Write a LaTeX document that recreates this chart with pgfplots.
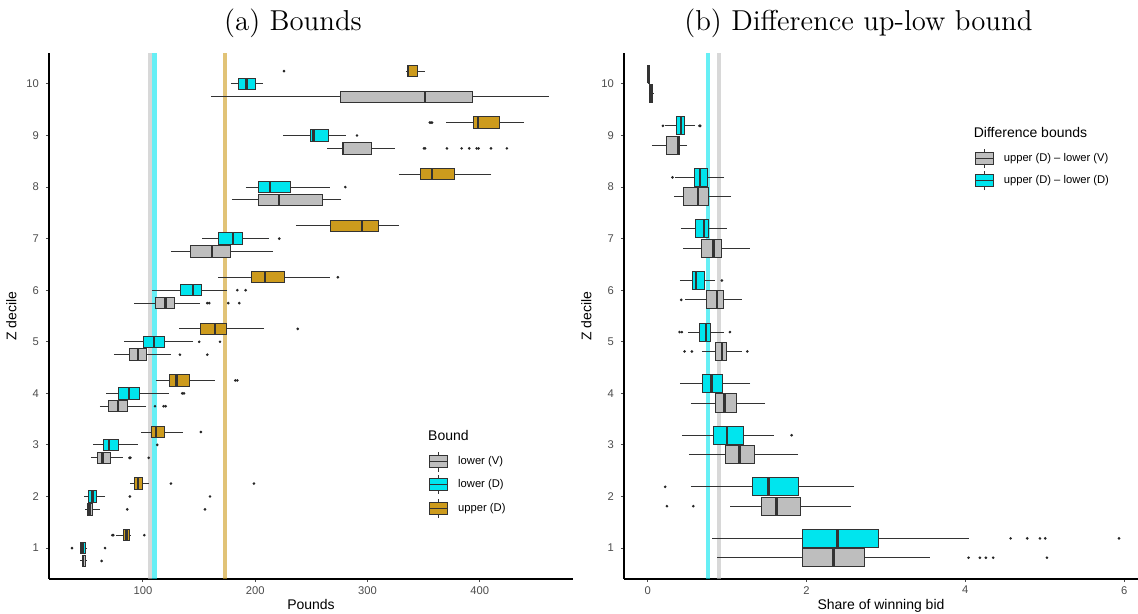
\documentclass[border=0pt]{standalone}
\usepackage{fontspec}
\usepackage{pgfplots}
\pgfplotsset{compat=1.18}
\usepgfplotslibrary{statistics}
\newfontfamily\lib{Liberation Sans}
\definecolor{cgray}{HTML}{BEBEBE}
\definecolor{ccyan}{HTML}{00E5EE}
\definecolor{cgold}{HTML}{CD9B1D}
\definecolor{cbord}{HTML}{333333}

\pgfplotsset{
  ggbox/.style={
    scale only axis, height=263pt,
    ymin=0.4, ymax=10.6, ytick={1,...,10},
    axis lines=left, axis line style={-, line width=0.55pt, black},
    tick align=outside, major tick length=1.6pt,
    tick style={black!70, line width=0.5pt},
    ticklabel style={font=\lib\fontsize{5.6}{6.5}\selectfont, text=black!70},
    xticklabel style={yshift=1.5pt},
    /pgf/number format/assume math mode=true,
    label style={font=\lib\fontsize{7}{8}\selectfont},
    xlabel style={yshift=4.5pt},
    ylabel style={yshift=-2pt},
    boxplot/whisker extend=0,
    boxplot/every median/.style={line width=1.2pt},
  },
  bxs/.style={draw=cbord, line width=0.5pt, mark=*, mark size=0.38pt,
    mark options={fill=black!85, draw=black!85, solid}},
}

% draw position, lower whisker, Q1, median, Q3, upper whisker, fill, outliers
\newcommand{\bx}[8]{\addplot[bxs, fill=#7, boxplot prepared={draw position=#1,
  lower whisker=#2, lower quartile=#3, median=#4, upper quartile=#5,
  upper whisker=#6}] coordinates {#8};}

\newcommand{\legkey}[3]{%
  \draw[cbord, line width=0.5pt] (#1+4.5pt,#2-4.8pt) -- (#1+4.5pt,#2+4.8pt);
  \draw[cbord, line width=0.5pt, fill=#3] (#1,#2-3pt) rectangle (#1+9pt,#2+3pt);
  \draw[cbord, line width=0.5pt] (#1,#2) -- (#1+9pt,#2);}

\begin{document}
\begin{tikzpicture}
\useasboundingbox (0,0) rectangle (569pt,307pt);

\begin{axis}[ggbox, at={(24.5pt,17.5pt)}, anchor=south west, width=262pt,
  xmin=16.3, xmax=483, xtick={100,200,300,400},
  xlabel={Pounds}, ylabel={Z decile},
  boxplot/box extend=0.22]
  \addplot[cgray, opacity=0.6, line width=2.1pt] coordinates {(106,0.4) (106,10.6)};
  \addplot[ccyan, opacity=0.6, line width=2.3pt] coordinates {(110,0.4) (110,10.6)};
  \addplot[cgold, opacity=0.6, line width=2.2pt] coordinates {(173,0.4) (173,10.6)};
  % decile 10
  \bx{10.25}{334.2}{335.2}{336}{344.7}{351.1}{cgold}{(0,225.6)}
  \bx{10}{178.1}{185}{192.3}{200.4}{207.1}{ccyan}{}
  \bx{9.75}{160.5}{276}{351.1}{393.6}{461.3}{cgray}{}
  % decile 9
  \bx{9.25}{370.1}{394.5}{398.3}{417.6}{439.5}{cgold}{(0,355.5) (0,356.5) (0,357.5)}
  \bx{9}{224.7}{249.6}{251.7}{265.6}{280.5}{ccyan}{(0,290.6)}
  \bx{8.75}{264.1}{277.5}{278.1}{303.6}{324.4}{cgray}{(0,350.3) (0,351.3) (0,370.7) (0,383.8) (0,390.6) (0,397.2) (0,398.9) (0,409.9) (0,424.1)}
  % decile 8
  \bx{8.25}{327.7}{346.9}{357.6}{377.2}{410.2}{cgold}{}
  \bx{8}{191.4}{202.7}{213.1}{231.8}{266.5}{ccyan}{(0,280.2)}
  \bx{7.75}{179}{202.7}{221.4}{260}{276.6}{cgray}{}
  % decile 7
  \bx{7.25}{236.2}{266.8}{295}{309.9}{328.2}{cgold}{}
  \bx{7}{152.8}{167.1}{180.4}{189}{212.5}{ccyan}{(0,221.4)}
  \bx{6.75}{124.9}{141.9}{161.7}{178.1}{216}{cgray}{}
  % decile 6
  \bx{6.25}{167.1}{196.8}{208.6}{225.8}{266.5}{cgold}{(0,273.6)}
  \bx{6}{108.3}{133.8}{144.3}{152.5}{175.1}{ccyan}{(0,184) (0,191.4)}
  \bx{5.75}{92.3}{111.3}{120.2}{128.5}{150.8}{cgray}{(0,157.3) (0,159) (0,176) (0,185.8)}
  % decile 5
  \bx{5.25}{132.3}{151}{164.1}{174.5}{208}{cgold}{(0,237.8)}
  \bx{5}{83.4}{100.6}{109.8}{119}{144.8}{ccyan}{(0,150.1) (0,168.6)}
  \bx{4.75}{73.9}{87.8}{95.8}{103.3}{124.9}{cgray}{(0,132.9) (0,157.3)}
  % decile 4
  \bx{4.25}{111.3}{123.2}{130}{141.2}{164.1}{cgold}{(0,182.2) (0,184)}
  \bx{4}{67.1}{78.4}{87.5}{96.7}{122.9}{ccyan}{(0,135) (0,136.5)}
  \bx{3.75}{61.4}{69.7}{78}{86}{103}{cgray}{(0,110.7) (0,118.4) (0,120.2)}
  % decile 3
  \bx{3.25}{98.5}{107.7}{111.8}{119}{135.6}{cgold}{(0,151.6)}
  \bx{3}{55.5}{65}{69.7}{78.4}{95.5}{ccyan}{(0,112.7)}
  \bx{2.75}{53.4}{59.3}{63.8}{70.9}{82.2}{cgray}{(0,88) (0,88.8) (0,105.1)}
  % decile 2
  \bx{2.25}{88.4}{92.3}{95.3}{99.7}{105.6}{cgold}{(0,124.9) (0,198.8)}
  \bx{2}{47.7}{51.6}{54.9}{59}{66.4}{ccyan}{(0,88.4) (0,159.7)}
  \bx{1.75}{48.6}{50.4}{52.2}{55.2}{61.4}{cgray}{(0,86) (0,155.2)}
  % decile 1
  \bx{1.25}{76}{82.8}{85.5}{87.8}{89}{cgold}{(0,72.7) (0,73.6) (0,101.2)}
  \bx{1}{43.9}{44.5}{46}{48.6}{50.4}{ccyan}{(0,36.8) (0,66.2)}
  \bx{0.75}{43.9}{45.7}{46.8}{48.6}{50.1}{cgray}{(0,63.2)}
\end{axis}

\begin{axis}[ggbox, at={(312pt,17.5pt)}, anchor=south west, width=257pt,
  xmin=-0.3, xmax=6.175, xtick={0,2,4,6},
  xlabel={Share of winning bid}, ylabel={Z decile},
  boxplot/box extend=0.35]
  \addplot[ccyan, opacity=0.6, line width=2.3pt] coordinates {(0.757,0.4) (0.757,10.6)};
  \addplot[cgray, opacity=0.6, line width=2.1pt] coordinates {(0.90,0.4) (0.90,10.6)};
  % decile 10
  \bx{10.1875}{0}{0.005}{0.01}{0.02}{0.025}{ccyan}{}
  \bx{9.8125}{0.01}{0.015}{0.035}{0.06}{0.065}{cgray}{}
  % decile 9
  \bx{9.1875}{0.22}{0.358}{0.421}{0.463}{0.60}{ccyan}{(0,0.19) (0,0.65) (0,0.66)}
  \bx{8.8125}{0.047}{0.24}{0.378}{0.404}{0.497}{cgray}{}
  % decile 8
  \bx{8.1875}{0.34}{0.585}{0.66}{0.749}{0.963}{ccyan}{(0,0.31)}
  \bx{7.8125}{0.328}{0.45}{0.635}{0.769}{1.052}{cgray}{}
  % decile 7
  \bx{7.1875}{0.412}{0.597}{0.706}{0.761}{0.996}{ccyan}{}
  \bx{6.8125}{0.441}{0.673}{0.828}{0.933}{1.282}{cgray}{}
  % decile 6
  \bx{6.1875}{0.40}{0.564}{0.61}{0.711}{0.841}{ccyan}{(0,0.933)}
  \bx{5.8125}{0.467}{0.744}{0.875}{0.951}{1.182}{cgray}{(0,0.421)}
  % decile 5
  \bx{5.1875}{0.504}{0.652}{0.736}{0.795}{0.958}{ccyan}{(0,0.40) (0,0.429) (0,1.034)}
  \bx{4.8125}{0.677}{0.85}{0.938}{0.996}{1.182}{cgray}{(0,0.463) (0,0.555) (0,1.253)}
  % decile 4
  \bx{4.1875}{0.404}{0.694}{0.803}{0.942}{1.291}{ccyan}{}
  \bx{3.8125}{0.538}{0.858}{0.967}{1.119}{1.48}{cgray}{}
  % decile 3
  \bx{3.1875}{0.429}{0.825}{0.996}{1.203}{1.585}{ccyan}{(0,1.812)}
  \bx{2.8125}{0.513}{0.976}{1.156}{1.349}{1.897}{cgray}{}
  % decile 2
  \bx{2.1875}{0.538}{1.316}{1.522}{1.892}{2.603}{ccyan}{(0,0.219)}
  \bx{1.8125}{1.039}{1.43}{1.619}{1.922}{2.556}{cgray}{(0,0.24) (0,0.573)}
  % decile 1
  \bx{1.1875}{0.812}{1.947}{2.388}{2.909}{4.04}{ccyan}{(0,4.57) (0,4.779) (0,4.939) (0,5.006) (0,5.936)}
  \bx{0.8125}{0.875}{1.947}{2.338}{2.733}{3.556}{cgray}{(0,4.04) (0,4.183) (0,4.259) (0,4.351) (0,5.028)}
\end{axis}

% titles
\node[font=\Large] at (146.5pt,295.5pt) {(a) Bounds};
\node[font=\Large] at (429.2pt,295.5pt) {(b) Difference up-low bound};

% legend (a)
\node[anchor=west, font=\lib\fontsize{7}{8}\selectfont, inner sep=0pt] at (213.9pt,89pt) {Bound};
\legkey{214.9pt}{76pt}{cgray}
\legkey{214.9pt}{64.9pt}{ccyan}
\legkey{214.9pt}{52.9pt}{cgold}
\begin{scope}[every node/.style={anchor=west, font=\lib\fontsize{5.6}{6.5}\selectfont, inner sep=0pt}]
\node at (228.9pt,76pt) {lower (V)};
\node at (228.9pt,64.9pt) {lower (D)};
\node at (228.9pt,52.9pt) {upper (D)};
\end{scope}

% legend (b)
\node[anchor=west, font=\lib\fontsize{7}{8}\selectfont, inner sep=0pt] at (486.7pt,240.9pt) {Difference bounds};
\legkey{487.5pt}{227.9pt}{cgray}
\legkey{487.5pt}{216.7pt}{ccyan}
\begin{scope}[every node/.style={anchor=west, font=\lib\fontsize{5.6}{6.5}\selectfont, inner sep=0pt}]
\node at (501.7pt,227.9pt) {upper (D) – lower (V)};
\node at (501.7pt,216.7pt) {upper (D) – lower (D)};
\end{scope}
\end{tikzpicture}
\end{document}
